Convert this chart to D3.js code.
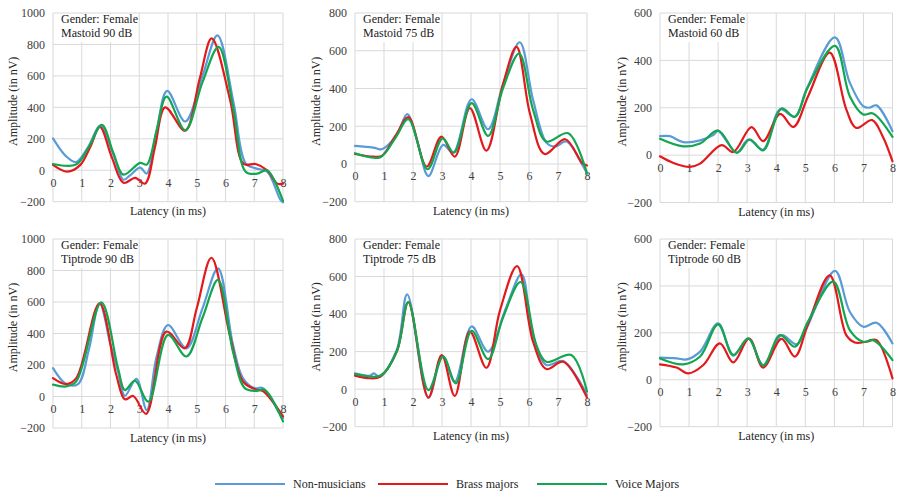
<!DOCTYPE html>
<html><head><meta charset="utf-8">
<script src="https://cdn.jsdelivr.net/npm/d3@7/dist/d3.min.js"></script>
<style>
html,body{margin:0;padding:0;background:#fff;}
svg{display:block;}
svg text{font-family:"Liberation Serif","Times New Roman",serif !important;}
</style></head>
<body>
<svg id="chart" width="900" height="499"></svg>
<script>
// ---------- DATA ----------
const seriesNames = ["Non-musicians", "Brass majors", "Voice Majors"];
const seriesColors = ["#5b9bd5", "#e3191c", "#14a550"];
const xTicks = [0,1,2,3,4,5,6,7,8];
const xLabel = "Latency (in ms)";
const yLabel = "Amplitude (in nV)";

const panelTitles = [
  ["Gender: Female", "Mastoid 90 dB"],
  ["Gender: Female", "Mastoid 75 dB"],
  ["Gender: Female", "Mastoid 60 dB"],
  ["Gender: Female", "Tiptrode 90 dB"],
  ["Gender: Female", "Tiptrode 75 dB"],
  ["Gender: Female", "Tiptrode 60 dB"]
];
const yTicks90 = [-200,0,200,400,600,800,1000];
const yTicks75 = [-200,0,200,400,600,800];
const yTicks60 = [-200,0,200,400,600];

// [latency ms, amplitude nV]
const m90_non   = [[0,203],[0.45,90],[0.8,52],[1.2,140],[1.65,282],[2.1,100],[2.45,-60],[2.68,-32],[3.03,17],[3.26,-21],[3.6,250],[3.97,505],[4.6,310],[5.2,600],[5.72,858],[6.28,430],[6.7,44],[7.05,12],[7.45,-9],[7.9,-185],[8,-205]];
const m90_brass = [[0,34],[0.5,-9],[0.95,34],[1.3,150],[1.63,275],[2.05,80],[2.45,-80],[2.86,-49],[3.2,-85],[3.55,150],[3.9,400],[4.6,252],[5.1,580],[5.52,838],[6.16,447],[6.63,40],[7.05,40],[7.45,0],[7.8,-85],[8,-85]];
const m90_voice = [[0,40],[0.8,36],[1.25,150],[1.7,288],[2.1,110],[2.45,-28],[3.03,47],[3.26,36],[3.6,250],[3.95,468],[4.6,255],[5.2,560],[5.76,785],[6.28,383],[6.7,-9],[7.1,-22],[7.45,0],[8,-195]];

const m75_non   = [[0,96],[0.63,87],[0.92,78],[1.44,154],[1.8,264],[2.15,120],[2.53,-64],[3.04,101],[3.39,60],[4.02,343],[4.59,184],[5.1,420],[5.68,645],[6.14,340],[6.6,113],[6.9,92],[7.29,119],[7.84,-5],[8,-50]];
const m75_brass = [[0,53],[0.63,39],[0.92,42],[1.4,150],[1.84,248],[2.47,-14],[2.98,145],[3.44,39],[3.96,296],[4.53,71],[5.1,420],[5.57,620],[6.03,269],[6.54,53],[7.25,131],[7.84,4],[8,-8]];
const m75_voice = [[0,57],[0.86,35],[1.4,140],[1.84,237],[2.5,-28],[3.02,136],[3.41,60],[4.02,322],[4.59,149],[5.1,400],[5.66,585],[6.14,287],[6.6,119],[7.35,163],[8,-50]];

const m60_non   = [[0,80],[0.34,80],[0.8,55],[1.38,62],[1.83,85],[2.0,101],[2.64,12],[3.04,66],[3.55,23],[4.13,193],[4.64,162],[5.04,278],[6.02,497],[6.53,306],[6.99,207],[7.2,200],[7.45,210],[8,101]];
const m60_brass = [[0,-5],[0.46,-33],[1.03,-50],[1.38,-36],[2.12,42],[2.52,13],[3.15,118],[3.55,59],[4.13,174],[4.59,119],[5.1,250],[5.84,433],[6.41,193],[6.75,115],[7.3,148],[7.66,80],[8,-26]];
const m60_voice = [[0,69],[0.8,37],[1.38,49],[2.0,104],[2.64,9],[3.09,66],[3.55,20],[4.18,197],[4.64,162],[5.1,290],[6.02,461],[6.53,249],[6.99,172],[7.33,176],[8,77]];

const t90_non   = [[0,180],[0.46,79],[0.87,79],[1.25,300],[1.62,592],[2.0,330],[2.26,159],[2.5,5],[2.9,112],[3.26,-86],[3.6,250],[4.0,454],[4.64,306],[5.2,560],[5.74,814],[6.26,328],[6.61,116],[7.01,53],[7.3,53],[7.88,-105],[8,-137]];
const t90_brass = [[0,117],[0.46,79],[0.81,117],[1.62,592],[2.2,138],[2.5,-18],[2.79,3],[3.24,-110],[3.94,412],[4.58,306],[5.0,560],[5.51,881],[6.15,391],[6.61,95],[7.07,43],[7.3,35],[8,-126]];
const t90_voice = [[0,75],[0.46,64],[0.81,96],[1.68,598],[2.26,180],[2.5,41],[2.85,100],[3.32,-33],[4.0,391],[4.64,254],[5.2,500],[5.74,740],[6.26,285],[6.67,53],[7.07,36],[7.36,43],[8,-158]];

const t75_non   = [[0,84],[0.52,72],[0.65,84],[0.86,66],[1.44,209],[1.8,505],[2.53,-45],[3.02,176],[3.44,40],[4.02,334],[4.59,200],[5.2,430],[5.74,612],[6.14,288],[6.6,129],[7.18,150],[8,-31]];
const t75_brass = [[0,72],[0.52,58],[0.86,66],[1.44,200],[1.84,464],[2.53,-45],[2.99,182],[3.44,-36],[3.96,307],[4.53,114],[5.0,420],[5.59,655],[6.14,253],[6.6,107],[7.18,146],[8,-45]];
const t75_voice = [[0,81],[0.86,72],[1.44,200],[1.84,464],[2.53,-5],[3.04,173],[3.48,31],[4.02,311],[4.59,160],[5.1,380],[5.71,571],[6.26,232],[6.6,146],[7.46,182],[8,-13]];

const t60_non   = [[0,94],[0.57,91],[0.92,87],[1.38,120],[2.0,240],[2.52,103],[3.04,176],[3.55,63],[4.18,190],[4.7,151],[5.04,219],[6.02,464],[6.53,290],[6.99,226],[7.45,243],[8,155]];
const t60_brass = [[0,66],[0.57,52],[0.97,27],[1.49,63],[2.06,155],[2.52,74],[3.07,176],[3.55,52],[4.18,174],[4.64,99],[5.1,240],[5.84,445],[6.41,190],[6.7,159],[7.1,162],[7.45,169],[8,6]];
const t60_voice = [[0,91],[0.8,66],[1.38,99],[2.0,236],[2.52,106],[3.04,176],[3.55,60],[4.13,190],[4.64,141],[5.1,250],[5.96,418],[6.53,212],[6.99,162],[7.33,169],[8,84]];

// ---------- LAYOUT ----------
const panels = [
  {title: panelTitles[0], ticks: yTicks90, series:[m90_non,m90_brass,m90_voice], x0:53,  x1:283, y0:13,  y1:201.7, yl:13},
  {title: panelTitles[1], ticks: yTicks75, series:[m75_non,m75_brass,m75_voice], x0:355, x1:587, y0:13,  y1:201.7, yl:316},
  {title: panelTitles[2], ticks: yTicks60, series:[m60_non,m60_brass,m60_voice], x0:660, x1:892.5, y0:13, y1:202.5, yl:622},
  {title: panelTitles[3], ticks: yTicks90, series:[t90_non,t90_brass,t90_voice], x0:53,  x1:283, y0:239, y1:428, yl:13},
  {title: panelTitles[4], ticks: yTicks75, series:[t75_non,t75_brass,t75_voice], x0:355, x1:587, y0:239, y1:426.7, yl:316},
  {title: panelTitles[5], ticks: yTicks60, series:[t60_non,t60_brass,t60_voice], x0:660, x1:892.5, y0:239, y1:426.7, yl:622}
];

const svg = d3.select("#chart");
const gridColor = "#d9d9d9";
const tickColor = "#404040";

panels.forEach((p, i) => {
  const x = d3.scaleLinear().domain([0, 8]).range([p.x0, p.x1]);
  const y = d3.scaleLinear().domain([p.ticks[0], p.ticks[p.ticks.length-1]]).range([p.y1, p.y0]);
  const g = svg.append("g");

  // gridlines
  g.append("g").selectAll("line").data(p.ticks).join("line")
    .attr("x1", p.x0).attr("x2", p.x1)
    .attr("y1", d => y(d)).attr("y2", d => y(d))
    .attr("stroke", gridColor).attr("stroke-width", 1);
  g.append("g").selectAll("line").data(xTicks).join("line")
    .attr("x1", d => x(d)).attr("x2", d => x(d))
    .attr("y1", p.y0).attr("y2", p.y1)
    .attr("stroke", gridColor).attr("stroke-width", 1);

  // y axis
  const ya = g.append("g").attr("transform", `translate(${p.x0},0)`)
    .call(d3.axisLeft(y).tickValues(p.ticks).tickSize(0).tickPadding(8).tickFormat(d3.format("d")));
  ya.select(".domain").remove();
  ya.selectAll("text").attr("font-size", 12).attr("fill", tickColor);

  // x axis at 0
  const xa = g.append("g").attr("transform", `translate(0,${y(0)})`)
    .call(d3.axisBottom(x).tickValues(xTicks).tickSize(0).tickPadding(8).tickFormat(d3.format("d")));
  xa.select(".domain").remove();
  xa.selectAll("text").attr("font-size", 12).attr("fill", tickColor);

  // axis titles
  g.append("text").attr("x", (p.x0 + p.x1) / 2).attr("y", p.y1 + 13.5)
    .attr("text-anchor", "middle").attr("font-size", 12).attr("fill", "#262626")
    .text(xLabel);
  g.append("text")
    .attr("transform", `translate(${p.yl + 4},${(p.y0 + p.y1) / 2 - 6}) rotate(-90)`)
    .attr("text-anchor", "middle").attr("font-size", 12).attr("fill", "#262626")
    .text(yLabel);

  // clip
  const cid = "clip" + i;
  svg.append("clipPath").attr("id", cid).append("rect")
    .attr("x", p.x0 - 2).attr("y", p.y0 - 2).attr("width", p.x1 - p.x0 + 4).attr("height", p.y1 - p.y0 + 4);

  const line = d3.line().x(d => x(d[0])).y(d => y(d[1])).curve(d3.curveCatmullRom.alpha(0.5));
  g.append("g").attr("clip-path", `url(#${cid})`).selectAll("path").data(p.series).join("path")
    .attr("d", d => line(d)).attr("fill", "none")
    .attr("stroke", (d, k) => seriesColors[k]).attr("stroke-width", 2.2)
    .attr("stroke-linejoin", "round").attr("stroke-linecap", "round");

  // panel label with white box
  g.append("rect").attr("x", p.x0 + 3).attr("y", p.y0 + 1).attr("width", 82).attr("height", 28)
    .attr("fill", "#fff");
  const tl = g.append("text").attr("font-size", 12).attr("fill", "#1a1a1a");
  p.title.forEach((t, k) => {
    tl.append("tspan").attr("x", p.x0 + 8).attr("y", p.y0 + 10 + k * 14).text(t);
  });
});

// legend
const legendX = [215, 378, 537];
const legend = svg.append("g");
seriesNames.forEach((n, k) => {
  legend.append("line").attr("x1", legendX[k]).attr("x2", legendX[k] + 70)
    .attr("y1", 484).attr("y2", 484)
    .attr("stroke", seriesColors[k]).attr("stroke-width", 2.2);
  legend.append("text").attr("x", legendX[k] + 78).attr("y", 488)
    .attr("font-size", 12).attr("fill", "#262626").text(n);
});
</script>
</body></html>
